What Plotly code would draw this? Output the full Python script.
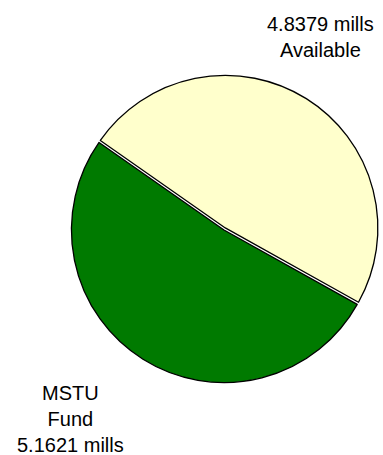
import plotly.graph_objects as go

# Millage split
labels = ["Available", "MSTU Fund"]
values = [4.8379, 5.1621]
colors = ["#FFFFCC", "#007A00"]
label_text = [
    f"{values[0]:.4f} mills<br>Available",
    f"MSTU<br>Fund<br>{values[1]:.4f} mills",
]

W, H = 383, 455

fig = go.Figure(
    go.Pie(
        labels=labels,
        values=values,
        sort=False,
        direction="counterclockwise",
        rotation=-55,
        pull=[0.016, 0],
        marker=dict(colors=colors, line=dict(color="black", width=1.3)),
        textinfo="none",
        hoverinfo="label+value",
        showlegend=False,
        domain=dict(x=[69 / W, 379 / W], y=[1 - 385 / H, 1 - 75 / H]),
    )
)

font = dict(family="Liberation Sans, Arial, sans-serif", size=20, color="black")
fig.add_annotation(
    x=320 / W, y=1 - 37 / H, xref="paper", yref="paper",
    text=label_text[0], showarrow=False, font=font, align="center",
    xanchor="center", yanchor="middle",
)
fig.add_annotation(
    x=70 / W, y=1 - 419 / H, xref="paper", yref="paper",
    text=label_text[1], showarrow=False, font=font, align="center",
    xanchor="center", yanchor="middle",
)

fig.update_layout(
    width=W,
    height=H,
    margin=dict(l=0, r=0, t=0, b=0),
    paper_bgcolor="white",
    plot_bgcolor="white",
)

fig.write_html("out.html")
